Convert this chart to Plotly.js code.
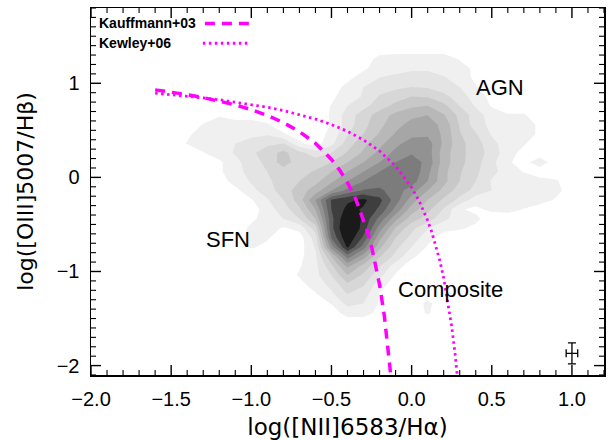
<!DOCTYPE html>
<html>
<head>
<meta charset="utf-8">
<script src="https://cdn.plot.ly/plotly-3.0.1.min.js"></script>
<style>
html,body{margin:0;padding:0;background:#fff;}
#chart{width:610px;height:440px;}
</style>
</head>
<body>
<div id="chart"></div>
<script>
// ---- density grid (log[NII]/Ha  x  log[OIII]/Hb) ----
const gridX = [-1.6,-1.5,-1.4,-1.3,-1.2,-1.1,-1.0,-0.9,-0.8,-0.7,-0.6,-0.5,-0.4,-0.3,-0.2,-0.1,0.0,0.1,0.2,0.3,0.4,0.5,0.6,0.7,0.8,0.9,1.0];
const gridYTopDown = [1.36,1.26,1.16,1.06,0.96,0.86,0.76,0.66,0.56,0.46,0.36,0.26,0.16,0.06,-0.04,-0.14,-0.24,-0.34,-0.44,-0.54,-0.64,-0.74,-0.84,-0.94,-1.04,-1.14,-1.24,-1.34,-1.44,-1.54,-1.64];
const densityRowsTopDown = [
 [0,0,0,0,0,0,0,0,0,0,0,0,0,0,0,0,0,0,0,0,0,0,0,0,0,0,0],
 [0,0,0,0,0,0,0,0,0,0,0,0,0,0,0.8,1,1,1,1,0.4,0,0,0,0,0,0,0],
 [0,0,0,0,0,0,0,0,0,0,0,0,0,0.3,1,1,1.3,1.3,1,1,0.2,0,0,0,0,0,0],
 [0,0,0,0,0,0,0,0,0,0,0,0,0.2,1,1.5,1.8,2,2,1.6,1,0.3,0,0,0,0,0,0],
 [0,0,0,0,0,0,0,0,0,0,0,0,0.8,1.5,2,2.3,2.5,2.4,2,1.5,0.6,0,0,0,0,0,0],
 [0,0,0,0,0,0,0,0,0,0,0,0.3,1,1.6,2.6,3,3.5,3.4,2.8,2,1,0.2,0,0,0,0,0],
 [0,0,0,0,0,0,0,0,0,0,0,0.55,1.5,2.2,3,3.8,4.3,4.5,3.8,2.5,1.4,0.4,0,0,0,0,0],
 [0,0,0,0,0.4,0,0,0,0,0,0,0.6,2,3,4,4.8,5.3,5.5,4.6,3.2,2,1,0.6,0.6,0,0,0],
 [0,0,0,0.55,1,1,1,0.6,0,0,0,0.55,2,3.2,4.2,5.2,5.8,6,5.2,3.4,2,1.2,1,1,0.3,0,0],
 [0,0,0.3,1,1,1,1.2,1.4,0.6,0,0,0.8,2.4,3.5,4.6,5.6,6.2,6.3,5.3,3.6,2.6,1.4,1,1,0.3,0,0],
 [0,0,0.55,1,1.2,1.5,2,2.3,2.5,0.7,0,1.2,3,4.2,5.2,6.2,7,7,5.3,3.8,3,1.8,1,0.6,0,0,0],
 [0,0,0,0.45,1,1.6,2.3,3,3.8,2.8,2,2.5,3.6,4.7,5.8,6.8,7.4,7,5,3.8,3,2.1,0.9,0.2,0,0,0],
 [0,0,0,0,0.3,1.2,2,2.8,4,3,3,3.5,4.5,5.5,6.5,7.5,8,7.2,5,3.8,2.9,1.8,0.6,0.2,1,0,0],
 [0,0,0,0,0.3,1.2,1.8,2.5,3,3.2,3.6,4.5,5.5,6.5,7.5,8.3,8.3,6.8,4.8,3.6,2.7,1.8,1,0.45,0,0,0],
 [0,0,0,0,0,0.9,1.6,2.3,3,3.5,4.2,5.3,6.5,7.5,8,8.3,8,6.5,4.8,3.5,2.5,1.4,1.2,1,0.8,0.6,0],
 [0,0,0,0,0,0.2,1.2,2,3,4,5,6.5,7.8,8.6,8.7,8,7,5.5,4.2,3,2.2,1.5,1.2,1,1,0.8,0],
 [0,0,0,0,0,0,0.4,1.4,2.5,4,6.5,9.6,10.3,10.7,9.8,8,6,4.5,3.3,2.2,0.9,1.2,1,1,0.9,0.4,0],
 [0,0,0,0,0,0,0,1,2,3.3,5.5,9.5,10.8,10.4,9.3,7.2,5,3.8,2.4,0.6,0.3,0.7,0.8,0.45,0,0,0],
 [0,0,0,0,0,0,0.3,0.9,1.5,2.5,4.5,9.2,11.5,10.3,8.2,5.8,4,3,1.8,0.9,0.7,0,0,0,0,0,0],
 [0,0,0,0,0,0,0.7,0.9,0.4,0.8,3,9.2,11.8,10.1,7,4.4,2.8,1.6,0.7,0.6,0.3,0,0,0,0,0,0],
 [0,0,0,0,0,0,0.8,0.6,0,0,2,8.6,11.4,9.3,5.8,3.5,2.2,0.8,0.2,0,0,0,0,0,0,0,0],
 [0,0,0,0,0,0,0.6,0.3,0,0,1.6,7,10.7,8,4.8,2.8,1.5,0.4,0,0,0,0,0,0,0,0,0],
 [0,0,0,0,0,0,0,0,0,0.2,1.3,4.5,8,6,3.6,2.2,0.7,0,0,0,0,0,0,0,0,0,0],
 [0,0,0,0,0,0,0,0,0,0.4,1.2,3.3,5.8,4.2,2.6,1,0,0,0,0,0,0,0,0,0,0,0],
 [0,0,0,0,0,0,0,0,0,0.6,1.2,2.5,4.5,3.3,1.8,0.4,0,0,0,0,0,0,0,0,0,0,0],
 [0,0,0,0,0,0,0,0,0,0.2,0.9,1.8,3.3,2.6,0.9,0,0,0,0,0,0,0,0,0,0,0,0],
 [0,0,0,0,0,0,0,0,0,0,0.4,1.3,2.5,2,0.45,0,0,0,0,0,0,0,0,0,0,0,0],
 [0,0,0,0,0,0,0,0,0,0,0,0.55,1.8,1.5,0.4,0,0,0.7,0,0,0,0,0,0,0,0,0],
 [0,0,0,0,0,0,0,0,0,0,0,0,0.9,0.9,0.2,0,0,0.6,0,0,0,0,0,0,0,0,0],
 [0,0,0,0,0,0,0,0,0,0,0,0,0,0,0,0,0,0,0,0,0,0,0,0,0,0,0],
 [0,0,0,0,0,0,0,0,0,0,0,0,0,0,0,0,0,0,0,0,0,0,0,0,0,0,0]
];
// grey level of each filled contour band (level 0 = white background)
const levelGreys = [255,240,228,215,200,184,166,146,124,98,62,26];

// ---- demarcation curves ----
const kauffX = [-1.6,-1.5,-1.4,-1.3,-1.2,-1.1,-1.0,-0.9,-0.8,-0.7,-0.6,-0.5,-0.45,-0.4,-0.35,-0.3,-0.275,-0.25,-0.225,-0.2,-0.17,-0.15,-0.13,-0.125];
const kauffY = [0.930,0.906,0.879,0.848,0.812,0.770,0.719,0.658,0.582,0.487,0.362,0.191,0.080,-0.056,-0.225,-0.443,-0.577,-0.733,-0.918,-1.140,-1.473,-1.750,-2.089,-2.186];
const kewX = [-1.6,-1.5,-1.4,-1.3,-1.2,-1.1,-1.0,-0.9,-0.8,-0.7,-0.6,-0.5,-0.4,-0.3,-0.2,-0.1,0.0,0.05,0.1,0.125,0.15,0.175,0.2,0.23,0.25,0.27,0.285,0.29];
const kewY = [0.895,0.880,0.864,0.845,0.825,0.801,0.775,0.745,0.710,0.669,0.620,0.561,0.489,0.398,0.280,0.120,-0.108,-0.262,-0.459,-0.578,-0.716,-0.878,-1.069,-1.352,-1.583,-1.860,-2.107,-2.199];

// ---- typical error bar ----
const errX = [1.0];
const errY = [-1.87];
const errXsize = [0.036];
const errYsize = [0.112];

// ---- labels ----
const regionLabels = ['AGN','SFN','Composite'];
const regionX = [0.55,-1.145,0.24];
const regionY = [0.95,-0.665,-1.196];
const legendNames = ['Kauffmann+03','Kewley+06'];

const X_RANGE = [-2.0, 1.2];
const Y_RANGE = [-2.1, 1.8];

const MAG = '#ff00ff';
const nL = levelGreys.length - 1;
const colorscale = [];
levelGreys.forEach((g, k) => {
  const c = `rgb(${g},${g},${g})`;
  const lo = Math.max(0, (k - 0.5) / nL);
  const hi = Math.min(1, (k + 0.5) / nL);
  colorscale.push([k === 0 ? 0 : lo + 1e-6, c]);
  colorscale.push([hi, c]);
});

const gridY = gridYTopDown.slice().reverse();
const z = densityRowsTopDown.slice().reverse();

const traces = [
  {
    type: 'contour', x: gridX, y: gridY, z: z,
    autocontour: false,
    contours: {start: 0.5, end: nL - 0.5, size: 1, coloring: 'fill', showlines: false},
    line: {width: 0, smoothing: 0},
    colorscale: colorscale, showscale: false, hoverinfo: 'skip'
  },
  {
    type: 'scatter', mode: 'lines', x: kewX, y: kewY, name: legendNames[1],
    line: {color: MAG, width: 2.8, dash: '2.5px,3.5px'}, hoverinfo: 'skip'
  },
  {
    type: 'scatter', mode: 'lines', x: kauffX, y: kauffY, name: legendNames[0],
    line: {color: MAG, width: 3.5, dash: '10px,7px'}, hoverinfo: 'skip'
  },
  {
    type: 'scatter', mode: 'markers', x: errX, y: errY,
    marker: {size: 1, color: 'black'},
    error_x: {type: 'data', array: errXsize, width: 4, thickness: 1.3, color: 'black'},
    error_y: {type: 'data', array: errYsize, width: 4, thickness: 1.3, color: 'black'},
    hoverinfo: 'skip'
  }
];

// ---- tick marks on all four sides (IDL style: inside, minor every 0.1) ----
const PLOT_W = 610 - 91 - 6, PLOT_H = 440 - 8 - 65;
const MAJOR_LEN = 10, MINOR_LEN = 5;
const shapes = [];
function tickShapes(axis, lo, hi, majorStep) {
  const n0 = Math.ceil(lo * 10 - 1e-6), n1 = Math.floor(hi * 10 + 1e-6);
  for (let n = n0; n <= n1; n++) {
    const v = n / 10;
    const isMajor = Math.abs(v / majorStep - Math.round(v / majorStep)) < 1e-6;
    const len = isMajor ? MAJOR_LEN : MINOR_LEN;
    const ln = {color: 'black', width: isMajor ? 1.4 : 1.1};
    if (axis === 'x') {
      const f = len / PLOT_H;
      shapes.push({type: 'line', xref: 'x', yref: 'paper', x0: v, x1: v, y0: 0, y1: f, line: ln});
      shapes.push({type: 'line', xref: 'x', yref: 'paper', x0: v, x1: v, y0: 1, y1: 1 - f, line: ln});
    } else {
      const f = len / PLOT_W;
      shapes.push({type: 'line', xref: 'paper', yref: 'y', x0: 0, x1: f, y0: v, y1: v, line: ln});
      shapes.push({type: 'line', xref: 'paper', yref: 'y', x0: 1, x1: 1 - f, y0: v, y1: v, line: ln});
    }
  }
}
tickShapes('x', X_RANGE[0], X_RANGE[1], 0.5);
tickShapes('y', Y_RANGE[0], Y_RANGE[1], 1);

// legend line samples
shapes.push({type: 'line', xref: 'paper', yref: 'paper', x0: 0.222, x1: 0.314, y0: 0.958, y1: 0.958,
  line: {color: MAG, width: 3.5, dash: '10px,7px'}});
shapes.push({type: 'line', xref: 'paper', yref: 'paper', x0: 0.218, x1: 0.307, y0: 0.904, y1: 0.904,
  line: {color: MAG, width: 2.8, dash: '2.5px,3.5px'}});

const axisCommon = {
  showgrid: false, zeroline: false, showline: true, linecolor: 'black', linewidth: 1.5,
  ticks: '', mirror: true,
  tickfont: {family: 'Liberation Sans, Arial, sans-serif', size: 20, color: 'black'}
};

const annotations = regionLabels.map((t, i) => ({
  x: regionX[i], y: regionY[i], xref: 'x', yref: 'y', text: t, showarrow: false,
  font: {family: 'Liberation Sans, Arial, sans-serif', size: 22, color: 'black'}
}));
annotations.push({xref: 'paper', yref: 'paper', x: 0.012, y: 0.958, xanchor: 'left', yanchor: 'middle',
  text: '<b>' + legendNames[0] + '</b>', showarrow: false,
  font: {family: 'Liberation Sans, Arial, sans-serif', size: 14, color: 'black'}});
annotations.push({xref: 'paper', yref: 'paper', x: 0.012, y: 0.904, xanchor: 'left', yanchor: 'middle',
  text: '<b>' + legendNames[1] + '</b>', showarrow: false,
  font: {family: 'Liberation Sans, Arial, sans-serif', size: 14, color: 'black'}});

const layout = {
  width: 610, height: 440,
  margin: {l: 91, r: 6, t: 8, b: 65},
  paper_bgcolor: 'white', plot_bgcolor: 'white',
  showlegend: false,
  font: {family: 'Liberation Sans, Arial, sans-serif', color: 'black'},
  xaxis: Object.assign({}, axisCommon, {
    range: X_RANGE, tick0: -2, dtick: 0.5, tickformat: '.1f', ticklabelstandoff: 5,
    title: {text: 'log([NII]6583/Hα)', font: {family: 'DejaVu Sans, sans-serif', size: 23}, standoff: 12}
  }),
  yaxis: Object.assign({}, axisCommon, {
    range: Y_RANGE, tick0: 0, dtick: 1, ticklabelstandoff: 6,
    title: {text: 'log([OIII]5007/Hβ)', font: {family: 'DejaVu Sans, sans-serif', size: 22}, standoff: 17}
  }),
  annotations: annotations,
  shapes: shapes
};

Plotly.newPlot('chart', traces, layout, {staticPlot: true, displayModeBar: false});
</script>
</body>
</html>
